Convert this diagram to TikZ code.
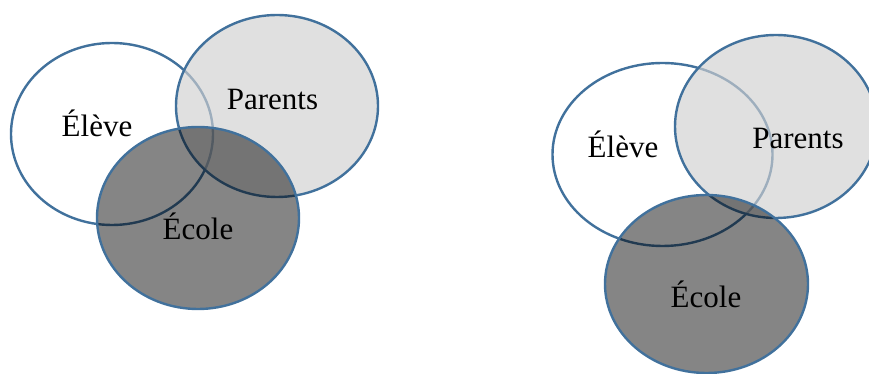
\documentclass[tikz,border=0pt]{standalone}
\usepackage{fontspec}
\setmainfont{Liberation Serif}
\definecolor{rimblue}{HTML}{41719C}
\definecolor{parentgray}{HTML}{D0D0D0}
\tikzset{
  rim/.style={draw=rimblue, line width=2.4pt},
  eleveset/.style={rim, fill=white},
  parentset/.style={rim, fill=parentgray, fill opacity=0.65},
  ecoleset/.style={rim, fill=black, fill opacity=0.48},
  setname/.style={anchor=base, inner sep=0pt, font=\fontsize{31}{36}\selectfont}
}
\begin{document}
\begin{tikzpicture}[x=1pt, y=1pt]
        \clip (0,0) rectangle (869,374);

        % Draw the sets of the left diagram
        \draw[eleveset] (112,240) ellipse (101pt and 91pt);
        \draw[parentset] (277,268) ellipse (101pt and 91pt);
        \draw[ecoleset] (198,156) ellipse (101pt and 91pt);

        % Draw the sets of the right diagram
        \draw[eleveset] (662.5,219.5) ellipse (110pt and 91.5pt);
        \draw[parentset] (776,247.5) ellipse (101pt and 91.5pt);
        \draw[ecoleset] (706.5,90) ellipse (101.5pt and 89pt);

        % Add the names of the sets
        \node[setname] (eleveA) at (97,237) {Élève};
        \node[setname] (parentsA) at (272.5,264) {Parents};
        \node[setname] (ecoleA) at (198,134) {École};

        \node[setname] (eleveB) at (623,216) {Élève};
        \node[setname] (parentsB) at (798,225) {Parents};
        \node[setname] (ecoleB) at (706,66) {École};
    \end{tikzpicture}
\end{document}
